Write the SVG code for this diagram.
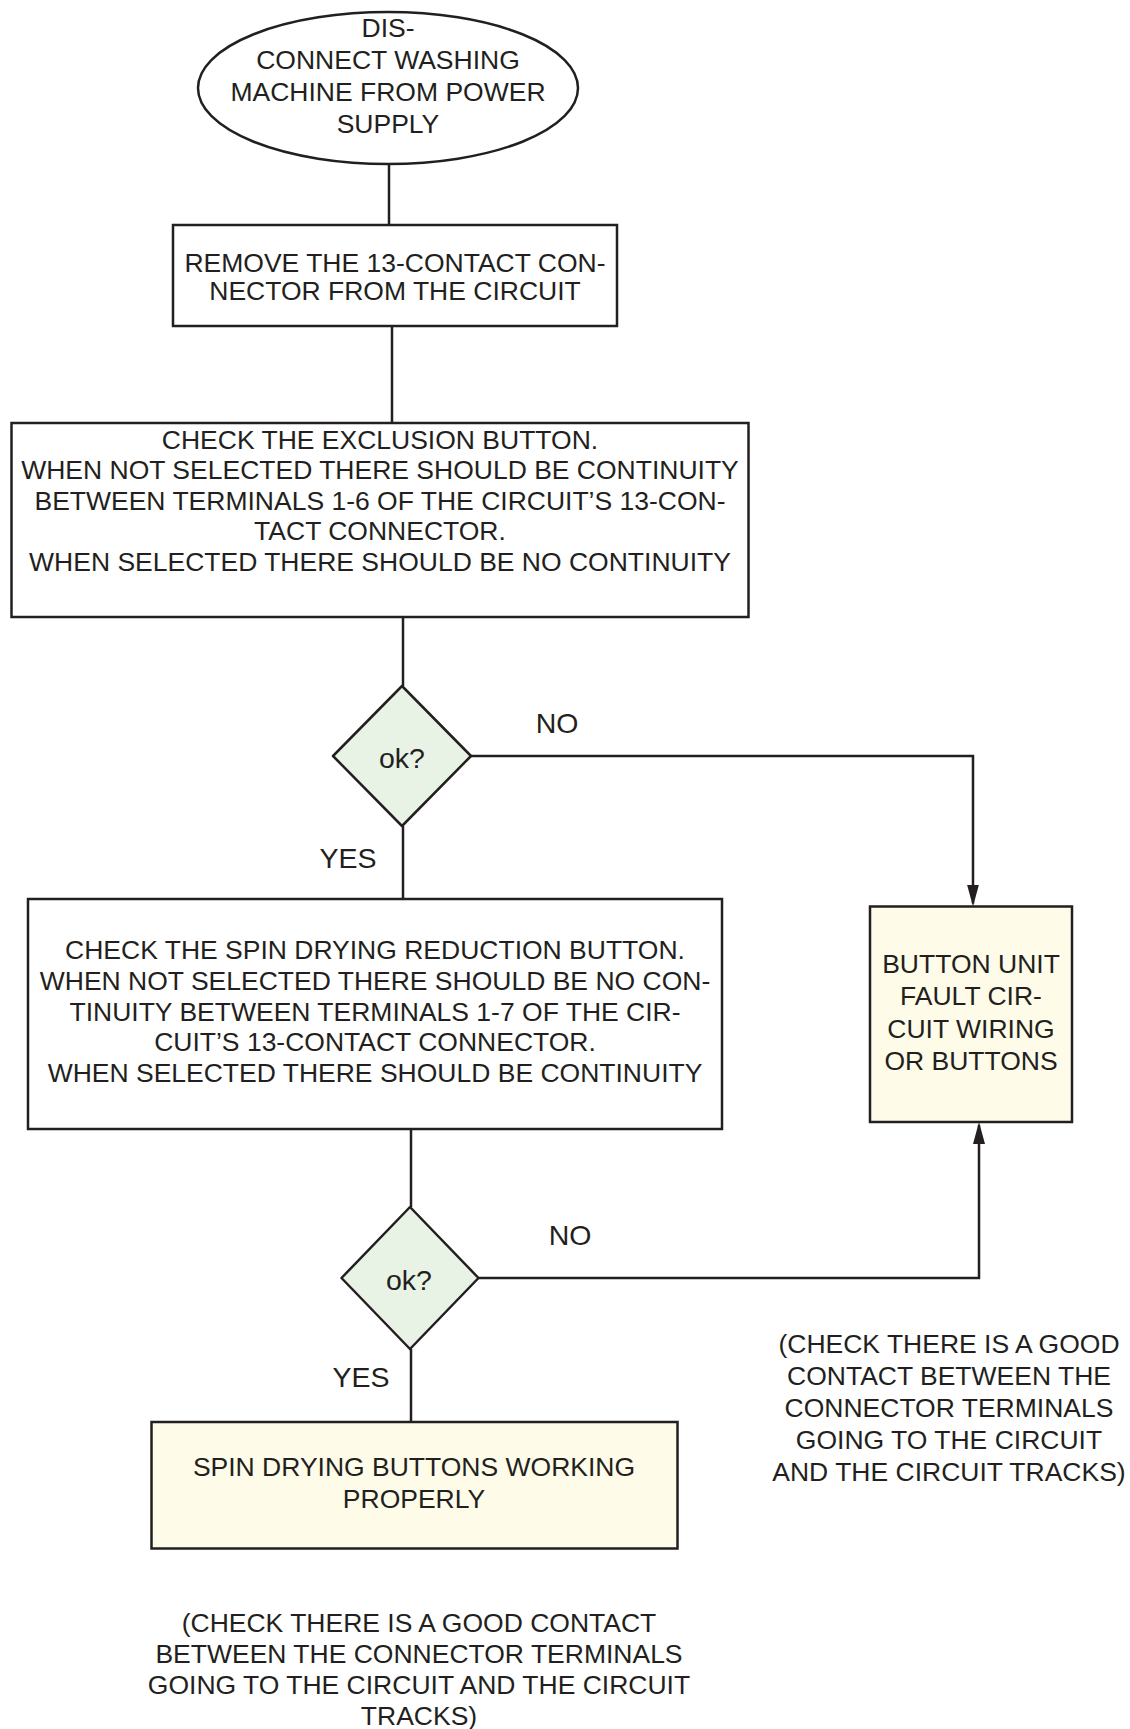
<svg xmlns="http://www.w3.org/2000/svg" width="1130" height="1729" viewBox="0 0 1130 1729">
<defs>
<style>
.t{font-family:"Liberation Sans",Arial,sans-serif;font-size:26.5px;fill:#231f20;text-anchor:middle}
.lbl{font-family:"Liberation Sans",Arial,sans-serif;font-size:28.5px;fill:#231f20;text-anchor:middle}
.box{fill:#ffffff;stroke:#231f20;stroke-width:2.5}
.res{fill:#fefbe9;stroke:#231f20;stroke-width:2.5}
.dec{fill:#e8f3e6;stroke:#231f20;stroke-width:2.5;stroke-linejoin:round}
.ln{fill:none;stroke:#231f20;stroke-width:2.5}
</style>
<marker id="arr" viewBox="0 0 22 12" refX="19" refY="6" markerWidth="22" markerHeight="12" markerUnits="userSpaceOnUse" orient="auto">
<path d="M0,0 L22,6 L0,12 Z" fill="#231f20"/>
</marker>
</defs>
<rect width="1130" height="1729" fill="#ffffff"/>

<g id="connectors">
<path class="ln" d="M389,164 V225"/>
<path class="ln" d="M392,326 V423"/>
<path class="ln" d="M403,617 V686"/>
<path class="ln" d="M403,826 V899"/>
<path class="ln" d="M471,756 H973 V903.5" marker-end="url(#arr)"/>
<path class="ln" d="M411,1129 V1207"/>
<path class="ln" d="M411,1349 V1422"/>
<path class="ln" d="M478.5,1278 H979 V1125" marker-end="url(#arr)"/>
<text class="lbl" x="557" y="733">NO</text>
<text class="lbl" x="348" y="868">YES</text>
<text class="lbl" x="570" y="1245">NO</text>
<text class="lbl" x="361" y="1387">YES</text>
</g>

<g id="start">
<ellipse class="box" cx="388" cy="88" rx="190" ry="76"/>
<text class="t" x="388" y="37">DIS-</text>
<text class="t" x="388" y="69">CONNECT WASHING</text>
<text class="t" x="388" y="101">MACHINE FROM POWER</text>
<text class="t" x="388" y="133">SUPPLY</text>
</g>

<g id="remove">
<rect class="box" x="173" y="225" width="444" height="101"/>
<text class="t" x="395" y="272">REMOVE THE 13-CONTACT CON-</text>
<text class="t" x="395" y="300">NECTOR FROM THE CIRCUIT</text>
</g>

<g id="check-exclusion">
<rect class="box" x="11.5" y="423" width="737" height="194"/>
<text class="t" x="380" y="448.5">CHECK THE EXCLUSION BUTTON.</text>
<text class="t" x="380" y="479">WHEN NOT SELECTED THERE SHOULD BE CONTINUITY</text>
<text class="t" x="380" y="509.5">BETWEEN TERMINALS 1-6 OF THE CIRCUIT’S 13-CON-</text>
<text class="t" x="380" y="540">TACT CONNECTOR.</text>
<text class="t" x="380" y="570.5">WHEN SELECTED THERE SHOULD BE NO CONTINUITY</text>
</g>

<g id="decision1">
<polygon class="dec" points="402,686 471,756 402,826 333,756"/>
<text class="lbl" x="402" y="768">ok?</text>
</g>

<g id="check-spin">
<rect class="box" x="28" y="899" width="694" height="230"/>
<text class="t" x="375" y="959">CHECK THE SPIN DRYING REDUCTION BUTTON.</text>
<text class="t" x="375" y="990">WHEN NOT SELECTED THERE SHOULD BE NO CON-</text>
<text class="t" x="375" y="1020.5">TINUITY BETWEEN TERMINALS 1-7 OF THE CIR-</text>
<text class="t" x="375" y="1051">CUIT’S 13-CONTACT CONNECTOR.</text>
<text class="t" x="375" y="1082">WHEN SELECTED THERE SHOULD BE CONTINUITY</text>
</g>

<g id="fault">
<rect class="res" x="870" y="906.5" width="202" height="215.5"/>
<text class="t" x="971" y="973">BUTTON UNIT</text>
<text class="t" x="971" y="1005">FAULT CIR-</text>
<text class="t" x="971" y="1038">CUIT WIRING</text>
<text class="t" x="971" y="1070">OR BUTTONS</text>
</g>

<g id="decision2">
<polygon class="dec" points="410,1207 478.5,1278 410,1349 341.5,1278"/>
<text class="lbl" x="409" y="1290">ok?</text>
</g>

<g id="working">
<rect class="res" x="151.5" y="1422" width="526" height="126.5"/>
<text class="t" x="414" y="1476">SPIN DRYING BUTTONS WORKING</text>
<text class="t" x="414" y="1508">PROPERLY</text>
</g>

<g id="note-right">
<text class="t" x="949" y="1353">(CHECK THERE IS A GOOD</text>
<text class="t" x="949" y="1385">CONTACT BETWEEN THE</text>
<text class="t" x="949" y="1417">CONNECTOR TERMINALS</text>
<text class="t" x="949" y="1449">GOING TO THE CIRCUIT</text>
<text class="t" x="949" y="1481">AND THE CIRCUIT TRACKS)</text>
</g>

<g id="note-bottom">
<text class="t" x="419" y="1632">(CHECK THERE IS A GOOD CONTACT</text>
<text class="t" x="419" y="1663">BETWEEN THE CONNECTOR TERMINALS</text>
<text class="t" x="419" y="1694">GOING TO THE CIRCUIT AND THE CIRCUIT</text>
<text class="t" x="419" y="1725">TRACKS)</text>
</g>
</svg>
